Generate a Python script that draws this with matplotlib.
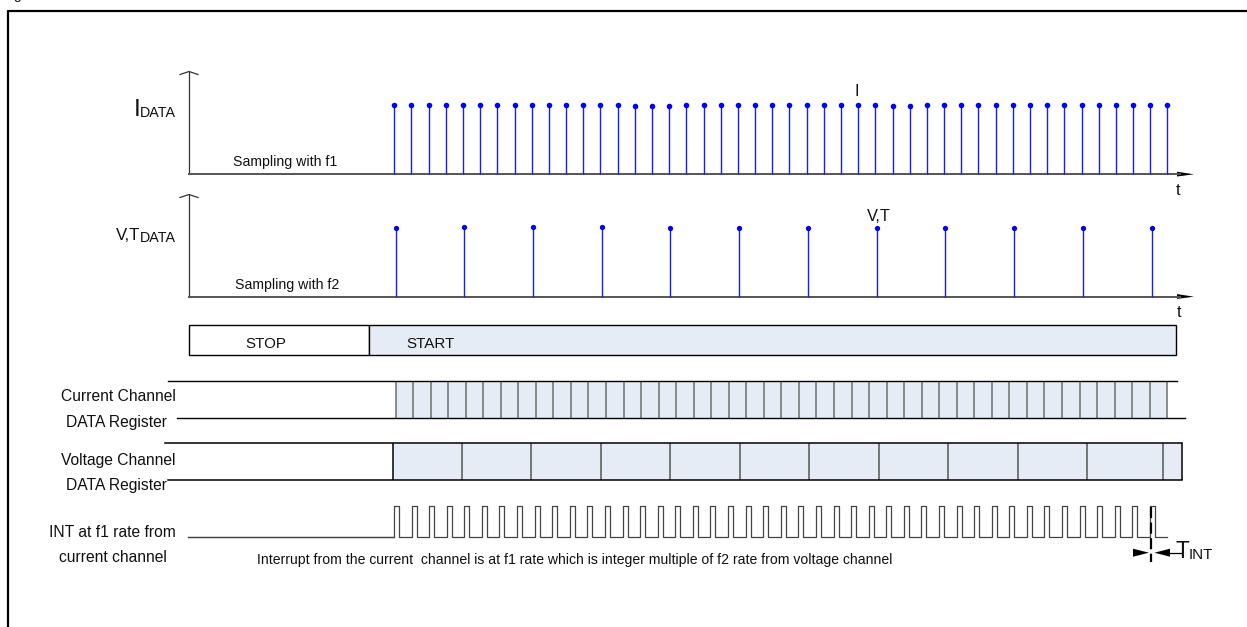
import numpy as np
import matplotlib
matplotlib.use("Agg")
import matplotlib.pyplot as plt
from matplotlib import font_manager
from matplotlib.patches import Rectangle, Polygon

# sample heights (relative to the nominal stem height)
i_data = [1.00, 1.00, 1.00, 1.00, 1.01, 1.01, 1.01, 1.01, 1.01, 1.01, 1.01,
          1.01, 1.01, 1.00, 0.99, 0.99, 0.99, 1.00, 1.00, 1.00, 1.00, 1.00,
          1.00, 1.00, 1.00, 1.00, 1.00, 1.00, 1.00, 0.99, 0.99, 1.00, 1.00,
          1.00, 1.00, 1.00, 1.00, 1.00, 1.00, 1.00, 1.00, 1.00, 1.00, 1.00,
          1.00, 1.00]
v_data = [1.00, 1.01, 1.01, 1.01, 0.99, 1.00, 1.00, 1.00, 1.00, 1.00, 1.00, 1.00]
v_every = 4          # one V,T sample per 4 current samples (f1 = 4 x f2)

# register / interrupt timing
cur_reg_cells = 44
volt_reg_edges = [-0.08, 3.96, 7.97, 12.01, 16.05, 20.1, 24.16, 28.21,
                  32.25, 36.29, 40.34, 44.76, 45.87]   # in current-sample periods
int_pulses = 44

row_labels = [("Current Channel", "DATA Register"),
              ("Voltage Channel", "DATA Register"),
              ("INT at f1 rate from", "current channel")]
note = ("Interrupt from the current  channel is at f1 rate which is "
        "integer multiple of f2 rate from voltage channel")

# font: narrow like the original if present
names = {f.name for f in font_manager.fontManager.ttflist}
if "Liberation Sans Narrow" in names:
    FONT, K = "Liberation Sans Narrow", 1.0
else:
    FONT, K = "Liberation Sans", 0.84
plt.rcParams["font.family"] = [FONT, "DejaVu Sans"]


def fs(px):
    return px * K * 0.72


# layout (pixels)
X0, DX = 394.3, 17.18          # sample clock
RX0, RDX = 395.5, 17.54        # register clock
IX0, IDX = 394.0, 17.58        # INT clock
I_BASE, V_BASE, STEM_H = 174.3, 296.7, 69
AX_LEFT = 189
FILL = "#e6ecf6"
TXT = "#111111"


def tx(t):
    return X0 + DX * np.asarray(t, dtype=float)


fig = plt.figure(figsize=(12.47, 6.27), dpi=100)
ax = fig.add_axes([0, 0, 1, 1])
ax.set_xlim(0, 1247)
ax.set_ylim(627, 0)
ax.axis("off")
rend = fig.canvas.get_renderer()


def sub_label(x, yb_main, yb_sub, main, sub, s_main, s_sub, anchor="right"):
    if anchor == "right":
        t = ax.text(x, yb_sub, sub, ha="right", va="baseline", fontsize=fs(s_sub), color=TXT)
        w = t.get_window_extent(rend).width
        ax.text(x - w, yb_main, main, ha="right", va="baseline", fontsize=fs(s_main), color=TXT)
    else:
        t = ax.text(x, yb_main, main, ha="left", va="baseline", fontsize=fs(s_main), color=TXT)
        w = t.get_window_extent(rend).width
        ax.text(x + w - 1, yb_sub, sub, ha="left", va="baseline", fontsize=fs(s_sub), color=TXT)


# outer frame + clipped caption
ax.plot([8, 8, 1247], [627, 11, 11], color="black", lw=1.6, solid_capstyle="butt")
ax.text(3, -0.5, "Figure", ha="left", va="baseline", fontsize=fs(17), color=TXT)

# ---- sampled data axes ----
for base, top in [(I_BASE, 71.5), (V_BASE, 194.5)]:
    ax.plot([AX_LEFT, AX_LEFT], [base, top], color="#333333", lw=0.9)
    ax.plot([AX_LEFT - 9, AX_LEFT, AX_LEFT + 9], [top + 3, top, top + 3], color="#333333", lw=0.9)
    ax.plot([AX_LEFT, 1180], [base, base], color="#555555", lw=1.4)
    ax.add_patch(Polygon([(1177, base - 2.6), (1194, base), (1177, base + 2.2)],
                         closed=True, color="black", lw=0))

xi = tx(np.arange(len(i_data)))
ti = I_BASE - STEM_H * np.array(i_data)
ax.vlines(xi, I_BASE, ti, colors="#1a1aff", lw=1.0)
ax.plot(xi, ti, "o", color="#0000ee", ms=4.0, mec="none")

xv = tx(np.arange(len(v_data)) * v_every) + 1.3
tv = V_BASE - STEM_H * np.array(v_data)
ax.vlines(xv, V_BASE, tv, colors="#1a1aff", lw=1.0)
ax.plot(xv, tv, "o", color="#0000ee", ms=3.8, mec="none")

sub_label(176, 115.5, 117.3, "I", "DATA", 29, 17)
sub_label(176, 240, 241.7, "V,T", "DATA", 20, 17)
ax.text(233, 165.7, "Sampling with f1", ha="left", va="baseline", fontsize=fs(16.8), color=TXT)
ax.text(235, 289.3, "Sampling with f2", ha="left", va="baseline", fontsize=fs(16.8), color=TXT)
ax.text(856.7, 95.7, "I", ha="center", va="baseline", fontsize=fs(19.5), color=TXT)
ax.text(878.7, 220.7, "V,T", ha="center", va="baseline", fontsize=fs(19.5), color=TXT)
ax.text(1178, 195, "t", ha="center", va="baseline", fontsize=fs(19.5), color=TXT)
ax.text(1179, 317, "t", ha="center", va="baseline", fontsize=fs(19.5), color=TXT)

# ---- STOP / START bar ----
ax.add_patch(Rectangle((AX_LEFT, 325), 369 - AX_LEFT, 30, fc="white", ec="black", lw=1.0))
ax.add_patch(Rectangle((369, 325), 1176 - 369, 30, fc=FILL, ec="black", lw=1.0))
ax.text(266, 348.3, "STOP", ha="center", va="baseline", fontsize=fs(18), color=TXT)
ax.text(406, 348.3, "START", ha="left", va="baseline", fontsize=fs(18), color=TXT)

# ---- current channel register ----
c_top, c_bot = 380.7, 418.3
c_edges = RX0 + RDX * np.arange(cur_reg_cells + 1)
ax.add_patch(Rectangle((c_edges[0], c_top), c_edges[-1] - c_edges[0], c_bot - c_top,
                       fc=FILL, ec="none"))
ax.vlines(c_edges, c_top, c_bot, colors="#6e6e6e", lw=1.1)
ax.plot([168, 1176.7], [c_top, c_top], color="black", lw=1.0)
ax.plot([177, 1185], [c_bot, c_bot], color="black", lw=1.0)

# ---- voltage channel register ----
v_top, v_bot = 442.7, 480
v_edges = tx(volt_reg_edges)
ax.add_patch(Rectangle((v_edges[0], v_top), v_edges[-1] - v_edges[0], v_bot - v_top,
                       fc=FILL, ec="none"))
ax.vlines(v_edges[1:-1], v_top, v_bot, colors="#555555", lw=1.1)
ax.vlines([v_edges[0], v_edges[-1]], v_top, v_bot, colors="black", lw=1.1)
ax.plot([165, v_edges[-1]], [v_top, v_top], color="black", lw=1.1)
ax.plot([168, v_edges[-1]], [v_bot, v_bot], color="black", lw=1.1)

# ---- INT line ----
lo, hi, w_hi = 536.7, 506.2, 5.0
xs, ys = [188], [lo]
for k in range(int_pulses):
    r = IX0 + IDX * k
    xs += [r, r, r + w_hi, r + w_hi]
    ys += [lo, hi, hi, lo]
xs.append(1166.7)
ys.append(lo)
ax.plot(xs, ys, color="#444444", lw=0.9)

# T_INT marker
xd = IX0 + IDX * (int_pulses - 1) + 1.5
ax.plot([xd, xd], [506.7, 561.7], color="black", lw=1.6, dashes=(5, 2))
ya = 552.7
ax.add_patch(Polygon([(1133, ya - 4), (xd - 2.5, ya), (1133, ya + 4)], closed=True, color="black", lw=0))
ax.add_patch(Polygon([(1170, ya - 4), (xd + 3, ya), (1170, ya + 4)], closed=True, color="black", lw=0))
ax.plot([1170, 1181], [ya, ya], color="black", lw=0.9)
sub_label(1175.5, 558, 559, "T", "INT", 27, 18, anchor="left")

# ---- row labels ----
label_y = [(400.7, 427.3), (465, 490), (536.7, 562)]
label_x = [(118, 117), (118, 116.5), (112.5, 113)]
for (l1, l2), (y1, y2), (x1, x2) in zip(row_labels, label_y, label_x):
    ax.text(x1, y1, l1, ha="center", va="baseline", fontsize=fs(18.6), color=TXT)
    ax.text(x2, y2, l2, ha="center", va="baseline", fontsize=fs(18.6), color=TXT)
ax.plot([188, IX0], [lo, lo], color="#444444", lw=0.9)

ax.text(257, 564, note, ha="left", va="baseline", fontsize=fs(16.7), color=TXT)

fig.savefig("out.png", dpi=100)
